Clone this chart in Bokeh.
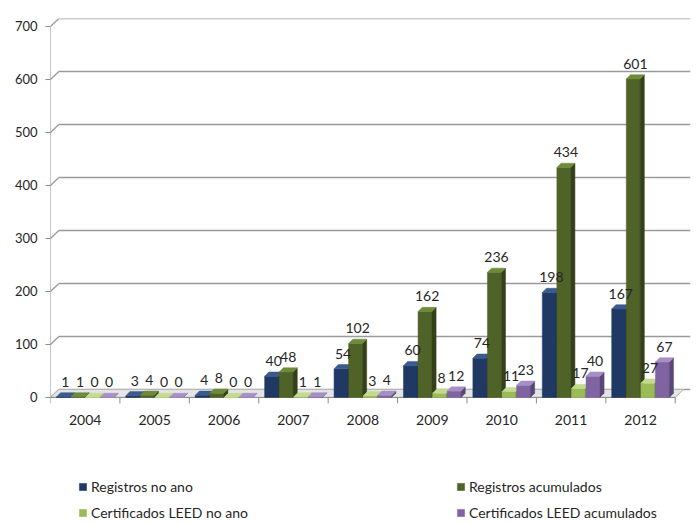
from bokeh.plotting import figure
from bokeh.models import Range1d, FixedTicker, Legend, LegendItem, ColumnDataSource
from bokeh.core.properties import value
from bokeh.embed import file_html
from bokeh.resources import INLINE

years = ["2004", "2005", "2006", "2007", "2008", "2009", "2010", "2011", "2012"]
registros_ano = [1, 3, 4, 40, 54, 60, 74, 198, 167]
registros_acumulados = [1, 4, 8, 48, 102, 162, 236, 434, 601]
leed_ano = [0, 0, 0, 1, 3, 8, 11, 17, 27]
leed_acumulados = [0, 0, 0, 1, 4, 12, 23, 40, 67]
series_names = ["Registros no ano", "Registros acumulados",
                "Certificados LEED no ano", "Certificados LEED acumulados"]
y_ticks = [0, 100, 200, 300, 400, 500, 600, 700]

series = [registros_ano, registros_acumulados, leed_ano, leed_acumulados]
front_colors = ["#1F3864", "#4F6228", "#9BBB59", "#8064A2"]
side_colors = ["#132540", "#33401A", "#71893F", "#5B4777"]
top_colors = ["#3B5A8E", "#6F8A3A", "#C3DB8C", "#A78FC6"]
AXIS = "#8c8c8c"
TXT = "#262626"
FONT = "Lato"

n = len(years)
offsets = [-0.315, -0.105, 0.105, 0.315]
bw = 0.2
bdx, bdy = 0.06, 8          # bar depth (data units)
wdx, wdy = 0.12, 15         # wall depth (data units)

W, H = 697, 524
top_border = 18
px_per_unit = 371 / 700     # vertical scale of the value axis
y_top = max(y_ticks) + wdy
y_bottom = y_top - (H - top_border) / px_per_unit
tick_len = 6 / px_per_unit

p = figure(width=W, height=H, output_backend="svg", toolbar_location=None,
           x_range=Range1d(0, n + 0.22), y_range=Range1d(y_bottom, y_top),
           min_border_left=50, min_border_right=7, min_border_top=top_border,
           min_border_bottom=0)
p.outline_line_color = None
p.xgrid.visible = False
p.ygrid.visible = False
p.xaxis.visible = False
p.background_fill_color = "white"
p.border_fill_color = "white"

# back-wall gridlines with depth
gx0, gy0, gx1, gy1 = [], [], [], []
for v in y_ticks:
    gx0 += [0, wdx]; gy0 += [v, v + wdy]
    gx1 += [wdx, n + 0.22]; gy1 += [v + wdy, v + wdy]
p.segment(x0=gx0, y0=gy0, x1=gx1, y1=gy1, line_color="#9a9a9a", line_width=1.3)

# floor
p.patch(x=[0, n, n + wdx, wdx], y=[0, 0, wdy, wdy],
        fill_color="#e4e4e4", line_color="#b5b5b5", line_width=1)

# front edges: value axis line and category axis line with boundary ticks
p.segment(x0=[0, 0], y0=[0, 0], x1=[0, n], y1=[max(y_ticks), 0], line_color=AXIS, line_width=1)
p.segment(x0=list(range(n + 1)), y0=[0] * (n + 1), x1=list(range(n + 1)),
          y1=[-tick_len] * (n + 1), line_color=AXIS, line_width=1)

renderers = []
for j, vals in enumerate(series):
    xs = [i + 0.5 + offsets[j] for i in range(n)]
    r = p.vbar(x=xs, width=bw, top=vals, bottom=0, fill_color=front_colors[j],
               line_color=front_colors[j], line_width=0.5)
    renderers.append(r)
    side_x, side_y, top_x, top_y = [], [], [], []
    for x, v in zip(xs, vals):
        xr = x + bw / 2
        xl = x - bw / 2
        side_x.append([xr, xr + bdx, xr + bdx, xr])
        side_y.append([0, bdy, v + bdy, v])
        top_x.append([xl, xr, xr + bdx, xl + bdx])
        top_y.append([v, v, v + bdy, v + bdy])
    p.patches(xs=side_x, ys=side_y, fill_color=side_colors[j], line_color=side_colors[j], line_width=0.5)
    p.patches(xs=top_x, ys=top_y, fill_color=top_colors[j], line_color=top_colors[j], line_width=0.5)

# data labels
for j, vals in enumerate(series):
    xs = [i + 0.5 + offsets[j] + bdx / 2 for i in range(n)]
    src = ColumnDataSource(dict(x=xs, y=[v + bdy for v in vals], t=[str(v) for v in vals]))
    p.text(x="x", y="y", text="t", source=src, text_align="center", text_baseline="bottom",
           y_offset=-6, text_font=value(FONT), text_font_size="14px", text_color=TXT)

# category labels
p.text(x=[i + 0.5 for i in range(n)], y=[0] * n, text=years, text_align="center",
       text_baseline="middle", y_offset=23, text_font=value(FONT),
       text_font_size="14px", text_color=TXT)

# value axis
p.yaxis.ticker = FixedTicker(ticks=y_ticks)
p.yaxis.axis_line_color = None
p.yaxis.major_tick_line_color = AXIS
p.yaxis.major_tick_out = 5
p.yaxis.major_tick_in = 0
p.yaxis.minor_tick_line_color = None
p.yaxis.major_label_text_font = FONT
p.yaxis.major_label_text_font_size = "13px"
p.yaxis.major_label_text_color = TXT
p.yaxis.major_label_standoff = 8

def make_legend(idx, x):
    return Legend(items=[LegendItem(label=series_names[k], renderers=[renderers[k]]) for k in idx],
                  location=(x, 3), orientation="vertical",
                  border_line_color=None, background_fill_alpha=0,
                  glyph_width=9, glyph_height=9, label_text_font=FONT,
                  label_text_font_size="14px", label_text_color=TXT,
                  label_height=18, spacing=8, padding=0, margin=0, label_standoff=4)

p.add_layout(make_legend([0, 2], 28), "center")
p.add_layout(make_legend([1, 3], 406), "center")

open("out.html", "w").write(file_html(p, INLINE))
